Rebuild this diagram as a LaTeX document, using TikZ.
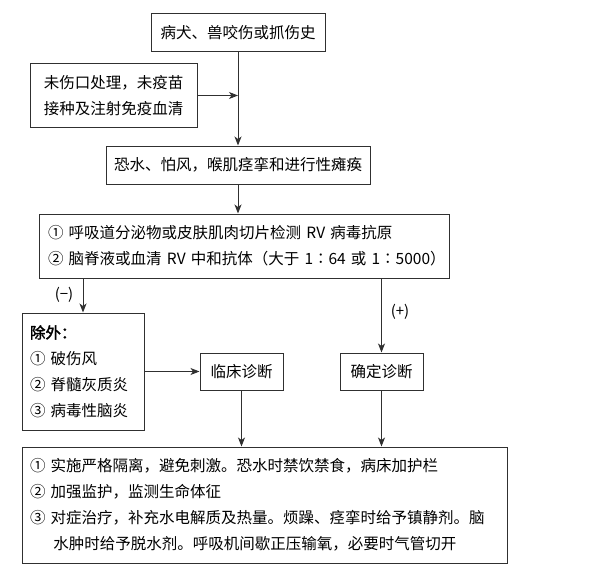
\documentclass[tikz,border=0pt]{standalone}
\usepackage{fontspec}
\usepackage{tikz}
\usetikzlibrary{arrows.meta, positioning, calc}
\newfontfamily\cjk{Noto Sans CJK SC}
\newfontfamily\cjkb[FakeBold=2]{Noto Sans CJK SC}
\definecolor{linegray}{HTML}{303030}

\begin{document}
\begin{tikzpicture}[x=1pt, y=-1pt,
            box/.style={draw=linegray, line width=1pt, inner sep=0pt, align=center,
                        font=\cjk\fontsize{15.5}{26}\selectfont},
            listbox/.style={box, inner xsep=8pt, align=left},
            arr/.style={draw=linegray, line width=1pt, -{Stealth[length=9pt, width=7pt, inset=2.5pt]}},
            lbl/.style={font=\cjk\fontsize{15}{17}\selectfont}]
            \useasboundingbox (0,0) rectangle (591,575);
            % Top of the chain
            \node[box, minimum width=174pt, minimum height=38pt] (history) at (238,33) {病犬、兽咬伤或抓伤史};
            \node[box, minimum width=167pt, minimum height=63pt] (risk) at (113.5,95.5) {未伤口处理，未疫苗\\接种及注射免疫血清};
            \node[box, minimum width=264pt, minimum height=38pt] (symptom) at (238,165) {恐水、怕风，喉肌痉挛和进行性瘫痪};
            \node[listbox, text width=392pt, inner xsep=9pt, minimum height=64pt] (test) at (244,246)
                {\mbox{① 呼吸道分泌物或皮肤肌肉切片检测 RV 病毒抗原}\\
                 \mbox{② 脑脊液或血清 RV 中和抗体（大于 1∶64 或 1∶5000）}};
            % Diagnosis
            \node[listbox, text width=106pt, minimum height=117pt] (exclude) at (83,371.5)
                {{\cjkb 除外：}\\① 破伤风\\② 脊髓灰质炎\\③ 病毒性脑炎};
            \node[box, minimum width=83pt, minimum height=37pt] (clinic) at (241.5,371.5) {临床诊断};
            \node[box, minimum width=83pt, minimum height=37pt] (confirm) at (381.5,371.5) {确定诊断};
            % Care
            \node[listbox, text width=469pt, minimum height=116pt] (care) at (264.5,505)
                {① 实施严格隔离，避免刺激。恐水时禁饮禁食，病床加护栏\\
                 ② 加强监护，监测生命体征\\
                 \mbox{③ 对症治疗，补充水电解质及热量。烦躁、痉挛时给予镇静剂。脑}\\
                 \hspace*{1.5em}水肿时给予脱水剂。呼吸机间歇正压输氧，必要时气管切开};
            % Connectors
            \coordinate (join) at (history.south |- risk.east);
            \draw[arr] (history.south) -- (history.south |- symptom.north);
            \draw[arr] (risk.east) -- (join);
            \draw[arr] (symptom.south) -- (symptom.south |- test.north);
            \draw[arr] (exclude.north |- test.south) -- (exclude.north);
            \draw[arr] (confirm.north |- test.south) -- (confirm.north);
            \draw[arr] (exclude.east |- clinic.west) -- (clinic.west);
            \draw[arr] (clinic.south) -- (clinic.south |- care.north);
            \draw[arr] (confirm.south) -- (confirm.south |- care.north);
            \node[lbl] (neg) at (64,295) {(−)};
            \node[lbl] (pos) at (400,312) {(+)};
        \end{tikzpicture}
\end{document}
